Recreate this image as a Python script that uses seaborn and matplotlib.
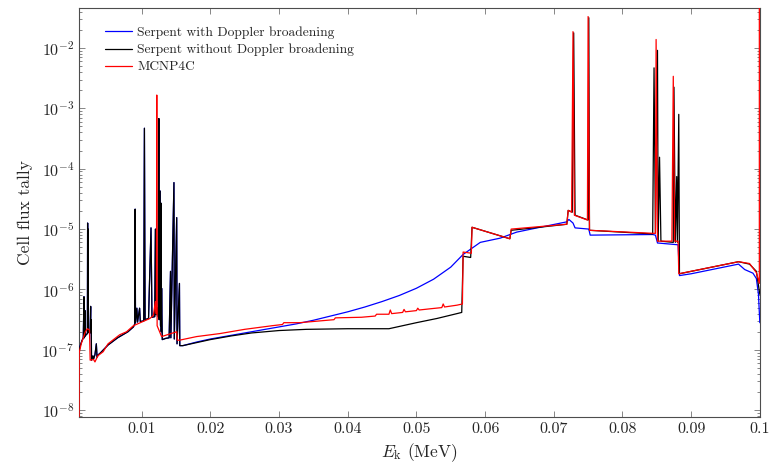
import numpy as np
import matplotlib
matplotlib.use('Agg')
import matplotlib.pyplot as plt
import matplotlib.ticker as mticker
import seaborn as sns

# energies in MeV, tallies given as log10 values
black_x = [0.00088, 0.0010, 0.0013, 0.0015, 0.0016, 0.00165, 0.0017, 0.00175, 0.0018, 0.0019,
           0.0021, 0.00213, 0.00216, 0.0022, 0.00225, 0.0025, 0.00257, 0.0026, 0.00265, 0.0027,
           0.0029, 0.0030, 0.0032, 0.0034, 0.0035, 0.0037, 0.0040, 0.0051, 0.0065, 0.0080,
           0.0088, 0.0090, 0.00905, 0.0091, 0.0093, 0.0094, 0.0097, 0.0098, 0.0103, 0.0104,
           0.0105, 0.0110, 0.01136, 0.0115, 0.0119, 0.0120, 0.0121, 0.0122, 0.0124, 0.0125,
           0.01255, 0.0127, 0.01275, 0.0128, 0.01285, 0.0129, 0.0130, 0.0135, 0.0140, 0.0142,
           0.01425, 0.0147, 0.01475, 0.0151, 0.01515, 0.0155, 0.01555, 0.0160, 0.0180, 0.0200,
           0.0230, 0.0260, 0.0300, 0.0340, 0.0400, 0.0460, 0.0480, 0.0500, 0.0530, 0.0559,
           0.0566, 0.0568, 0.0579, 0.0581, 0.0636, 0.0638, 0.0719, 0.0721, 0.0727, 0.0729,
           0.0731, 0.0750, 0.0751, 0.0752, 0.0844, 0.0846, 0.0848, 0.0851, 0.0852, 0.0854,
           0.0856, 0.0874, 0.0875, 0.0877, 0.0879, 0.0880, 0.0882, 0.0883, 0.0900, 0.0969,
           0.0985, 0.0995, 0.1000]
black_logy = [-7.03, -6.95, -6.85, -6.80, -6.12, -6.80, -6.78, -6.35, -6.77, -6.75,
              -6.73, -4.90, -6.72, -5.00, -6.70, -6.68, -6.28, -6.72, -6.50, -7.17,
              -7.10, -7.15, -7.08, -6.90, -7.12, -7.08, -7.05, -6.92, -6.80, -6.70,
              -6.62, -6.57, -4.67, -6.55, -6.31, -6.54, -6.31, -6.53, -6.52, -3.33,
              -6.50, -6.48, -4.98, -6.46, -6.45, -5.00, -6.42, -6.30, -6.45, -3.17,
              -6.50, -4.37, -6.60, -4.57, -6.70, -5.98, -6.83, -6.81, -6.80, -5.70,
              -6.80, -4.23, -6.82, -4.81, -6.90, -5.90, -6.93, -6.93, -6.88, -6.83,
              -6.77, -6.72, -6.68, -6.66, -6.65, -6.65, -6.60, -6.55, -6.48, -6.40,
              -6.38, -5.45, -5.47, -4.97, -5.16, -5.02, -4.92, -4.69, -4.72, -1.75,
              -4.77, -4.85, -1.50, -5.02, -5.08, -2.33, -5.06, -2.04, -5.20, -3.81,
              -5.20, -5.22, -2.65, -5.22, -4.13, -5.22, -3.10, -5.74, -5.70, -5.54,
              -5.58, -5.70, -6.08]

blue_x_high = [0.0180, 0.0200, 0.0225, 0.0250, 0.0275, 0.0300, 0.0325, 0.0350, 0.0375, 0.0400,
               0.0425, 0.0450, 0.0475, 0.0500, 0.0525, 0.0550, 0.0568, 0.0593, 0.0622, 0.0646,
               0.0680, 0.0719, 0.0722, 0.0728, 0.0731, 0.0751, 0.0753, 0.0844, 0.0848, 0.0851,
               0.0881, 0.0883, 0.0900, 0.0969, 0.0975, 0.0978, 0.0990, 0.0995, 0.0998, 0.1000]
blue_logy_high = [-6.87, -6.82, -6.77, -6.72, -6.67, -6.62, -6.57, -6.51, -6.44, -6.37,
                  -6.29, -6.20, -6.10, -5.98, -5.83, -5.63, -5.42, -5.22, -5.15, -5.05,
                  -4.97, -4.88, -4.84, -4.90, -4.98, -5.00, -5.10, -5.09, -5.10, -5.23,
                  -5.26, -5.77, -5.74, -5.58, -5.64, -5.67, -5.73, -5.82, -6.08, -6.55]

red_x = [0.00088, 0.0009, 0.0012, 0.0018, 0.0021, 0.0024, 0.0025, 0.0030, 0.0032, 0.0036,
         0.0044, 0.0051, 0.0068, 0.0078, 0.0088, 0.0112, 0.0117, 0.0120, 0.0121, 0.01215,
         0.0122, 0.01225, 0.0129, 0.0151, 0.0152, 0.0155, 0.0180, 0.0214, 0.0250, 0.0290,
         0.0305, 0.0307, 0.0330, 0.0360, 0.0380, 0.0382, 0.0420, 0.0440, 0.0442, 0.0460,
         0.0462, 0.0464, 0.0480, 0.0482, 0.0484, 0.0500, 0.0502, 0.0504, 0.0520, 0.0537,
         0.0539, 0.0541, 0.0559, 0.0567, 0.0568, 0.0580, 0.0581, 0.0636, 0.0638, 0.0719,
         0.0721, 0.0726, 0.0728, 0.0730, 0.0749, 0.0750, 0.0752, 0.0844, 0.0848, 0.0849,
         0.0851, 0.0872, 0.0874, 0.0876, 0.0881, 0.0882, 0.0969, 0.0985, 0.0995, 0.09993,
         0.09993]
red_logy = [-8.60, -7.05, -6.90, -6.70, -6.65, -6.67, -7.17, -7.16, -7.20, -7.10,
            -7.03, -6.90, -6.75, -6.70, -6.60, -6.48, -6.43, -6.20, -6.40, -6.40,
            -2.78, -6.60, -6.78, -6.70, -6.84, -6.84, -6.78, -6.73, -6.66, -6.60,
            -6.58, -6.55, -6.55, -6.52, -6.50, -6.47, -6.46, -6.44, -6.41, -6.41,
            -6.34, -6.40, -6.38, -6.33, -6.37, -6.35, -6.31, -6.34, -6.32, -6.30,
            -6.24, -6.29, -6.26, -6.24, -5.38, -5.40, -4.97, -5.16, -5.00, -4.92,
            -4.69, -4.72, -1.73, -4.77, -4.85, -1.48, -5.02, -5.07, -5.07, -1.86,
            -5.20, -5.20, -2.47, -5.20, -5.20, -5.74, -5.54, -5.57, -5.72, -5.90,
            0.0]

labels = ['Serpent with Doppler broadening', 'Serpent without Doppler broadening', 'MCNP4C']

# below 0.016 MeV the two Serpent runs lie on top of each other
n_low = black_x.index(0.0160) + 1
blue_x = black_x[:n_low] + blue_x_high
blue_logy = black_logy[:n_low] + blue_logy_high

sns.set_theme(style='ticks')
plt.rcParams['font.family'] = 'serif'
plt.rcParams['font.serif'] = ['cmr10', 'DejaVu Serif']
plt.rcParams['mathtext.fontset'] = 'cm'
plt.rcParams['axes.formatter.use_mathtext'] = True

fig = plt.figure(figsize=(7.71, 4.65), dpi=100)
ax = fig.add_axes([0.1025, 0.103, 0.883, 0.880])

series = [(blue_x, blue_logy, (0, 0, 1)),
          (black_x, black_logy, (0, 0, 0)),
          (red_x, red_logy, (1, 0, 0))]
for (xs, ly, col), lab in zip(series, labels):
    sns.lineplot(x=np.array(xs), y=10.0 ** np.array(ly), ax=ax, color=col, linewidth=0.9,
                 sort=False, estimator=None, label=lab, zorder=3)

ax.set_yscale('log')
ax.set_xlim(0.00088, 0.1)
ax.set_ylim(7.7e-9, 4.6e-2)
ax.xaxis.set_major_locator(mticker.MultipleLocator(0.01))
ax.xaxis.set_major_formatter(mticker.FormatStrFormatter('%g'))
ax.yaxis.set_major_locator(mticker.FixedLocator([1e-8, 1e-7, 1e-6, 1e-5, 1e-4, 1e-3, 1e-2]))
ax.yaxis.set_minor_locator(mticker.LogLocator(base=10, subs=np.arange(2, 10), numticks=20))
ax.yaxis.set_minor_formatter(mticker.NullFormatter())

ax.tick_params(which='both', direction='in', top=True, right=True, color='0.45',
               labelsize=11.5, width=0.6)
ax.tick_params(which='major', length=4.5)
ax.tick_params(which='minor', length=2.5)
for sp in ax.spines.values():
    sp.set_color('0.3')
    sp.set_linewidth(0.8)

ax.set_xlabel(r'$E_\mathrm{k}$ (MeV)', fontsize=12.5, labelpad=4)
ax.set_ylabel('Cell flux tally', fontsize=12.5, labelpad=6)

ax.legend(loc='upper left', bbox_to_anchor=(0.038, 0.955), frameon=False, fontsize=9.7,
          handlelength=2.0, handletextpad=0.4, labelspacing=0.35, borderpad=0, borderaxespad=0)

fig.savefig('out.png', dpi=100)
